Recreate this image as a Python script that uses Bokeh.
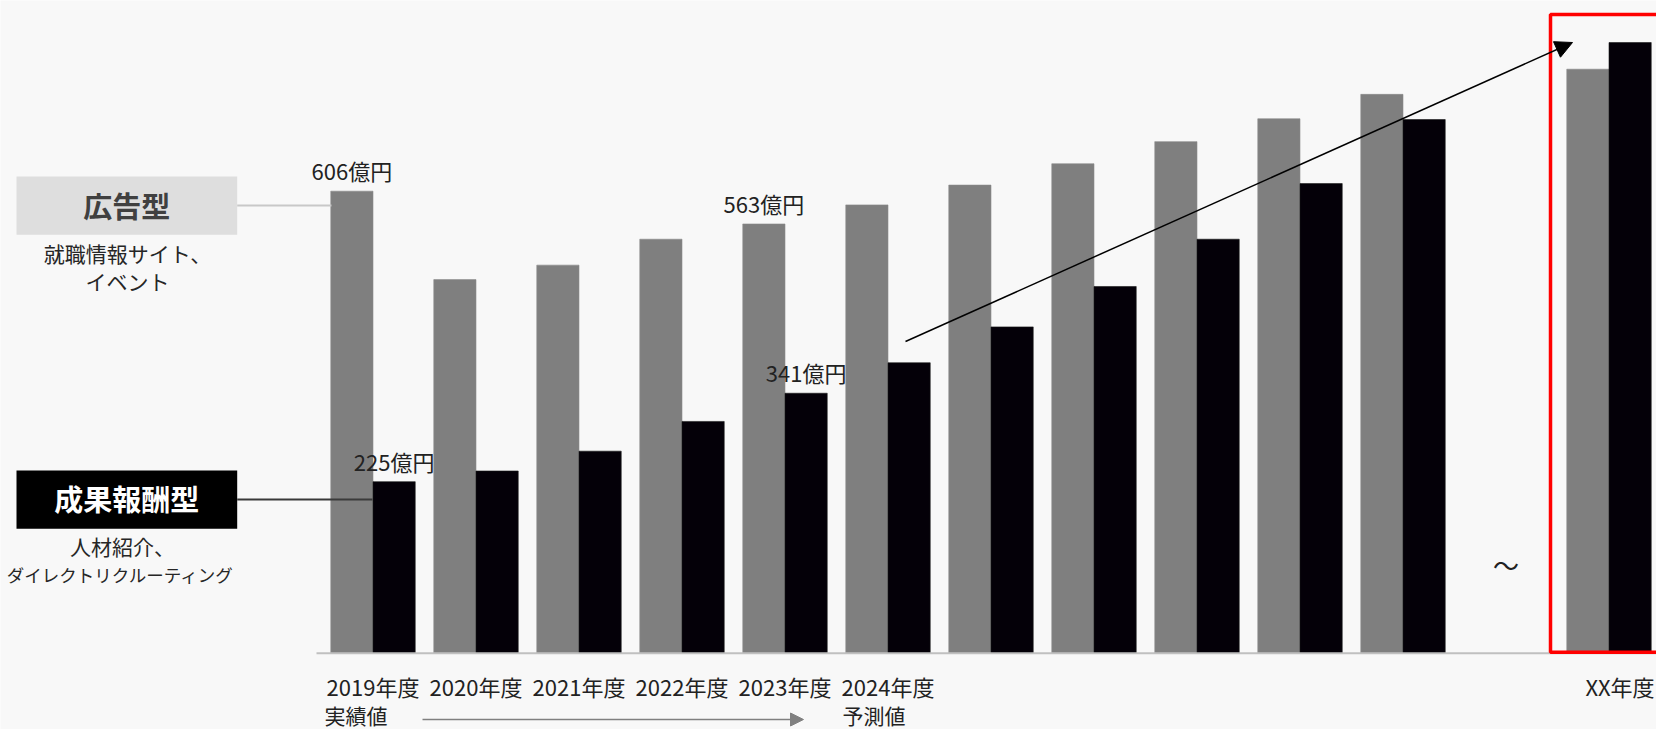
from bokeh.plotting import figure
from bokeh.models import Arrow, NormalHead, Range1d
from bokeh.core.properties import value
from bokeh.embed import file_html
from bokeh.resources import INLINE

# ---------------- data ----------------
years = ["2019年度", "2020年度", "2021年度", "2022年度", "2023年度", "2024年度",
         "2025年度", "2026年度", "2027年度", "2028年度", "2029年度", "XX年度"]
tick_labels = ["2019年度", "2020年度", "2021年度", "2022年度", "2023年度", "2024年度",
               "", "", "", "", "", "XX年度"]
slot = [0, 1, 2, 3, 4, 5, 6, 7, 8, 9, 10, 12]          # position 11 is the "～" gap
ad_type = [606, 490, 509, 543, 563, 588, 614, 642, 671, 701, 733, 766]      # 広告型 (億円)
perf_type = [225, 239, 265, 304, 341, 381, 428, 481, 543, 616, 700, 801]    # 成果報酬型 (億円)
ad_labels = ["606億円", "", "", "", "563億円", "", "", "", "", "", "", ""]
perf_labels = ["225億円", "", "", "", "341億円", "", "", "", "", "", "", ""]

# ---------------- layout helpers ----------------
W, H = 1656, 729
XS = 103.0            # px per slot
X0 = -372.5 / XS
YS = 0.7624           # px per 億円
Y0 = -(H - 652.7) / YS
FONT = value("Noto Sans CJK JP")


def fx(px):
    return X0 + px / XS


def fy(py):
    return Y0 + (H - py) / YS


p = figure(width=W, height=H, output_backend="svg", toolbar_location=None,
           x_range=Range1d(X0, X0 + W / XS), y_range=Range1d(Y0, Y0 + H / YS),
           min_border=0, min_border_left=0, min_border_right=0,
           min_border_top=0, min_border_bottom=0)
p.axis.visible = False
p.grid.visible = False
p.outline_line_color = None
p.background_fill_color = "#f8f8f8"
p.border_fill_color = "#f8f8f8"

# bars
p.vbar(x=[s - 0.205 for s in slot], top=ad_type, bottom=0, width=0.41,
       fill_color="#7f7f7f", line_color="#8a8a8a", line_width=0.6)
p.vbar(x=[s + 0.205 for s in slot], top=perf_type, bottom=0, width=0.41,
       fill_color="#040008", line_color="#1a1a1a", line_width=0.6)

# baseline
p.segment(x0=[fx(316)], y0=[0], x1=[fx(1670)], y1=[0], line_color="#c0c0c0", line_width=2)

# value labels
p.text(x=[s - 0.205 for s in slot], y=ad_type, text=ad_labels, y_offset=-21,
       text_font=FONT, text_font_size="22px", text_color="#222222",
       text_align="center", text_baseline="middle")
p.text(x=[s + 0.205 for s in slot], y=perf_type, text=perf_labels, y_offset=-21,
       text_font=FONT, text_font_size="22px", text_color="#222222",
       text_align="center", text_baseline="middle")

# category labels
x_off = [0] * 11 + [11]
p.text(x=slot, y=[fy(685)] * len(slot), text=tick_labels, x_offset=x_off,
       text_font=FONT, text_font_size="22px", text_color="#222222",
       text_align="center", text_baseline="middle")

# legend boxes on the left
p.quad(left=[fx(16)], right=[fx(236.7)], top=[fy(176)], bottom=[fy(234.3)],
       fill_color="#dedede", line_color=None)
p.quad(left=[fx(16)], right=[fx(236.7)], top=[fy(470)], bottom=[fy(528.3)],
       fill_color="#000000", line_color=None)
p.text(x=[fx(126.3)], y=[fy(204)], text=["広告型"], text_font=FONT,
       text_font_style="bold", text_font_size="29px", text_color="#404040",
       text_align="center", text_baseline="middle")
p.text(x=[fx(126.3)], y=[fy(497)], text=["成果報酬型"], text_font=FONT,
       text_font_style="bold", text_font_size="29px", text_color="#ffffff",
       text_align="center", text_baseline="middle")
p.text(x=[fx(127), fx(127)], y=[fy(252), fy(280)],
       text=["就職情報サイト、", "イベント"], text_font=FONT, text_font_size="21px",
       text_color="#262626", text_align="center", text_baseline="middle")
p.text(x=[fx(122)], y=[fy(545)], text=["人材紹介、"], text_font=FONT,
       text_font_size="21px", text_color="#262626", text_align="center",
       text_baseline="middle")
p.text(x=[fx(120)], y=[fy(574)], text=["ダイレクトリクルーティング"], text_font=FONT,
       text_font_size="17.5px", text_color="#262626", text_align="center",
       text_baseline="middle")

# connectors
p.segment(x0=[fx(236.7)], y0=[fy(205)], x1=[fx(331)], y1=[fy(205)],
          line_color="#c8c8c8", line_width=2)
p.segment(x0=[fx(236.7)], y0=[fy(499)], x1=[fx(372)], y1=[fy(499)],
          line_color="#3a3a3a", line_width=2)

# tilde gap marker
p.text(x=[11], y=[fy(564)], text=["～"], text_font=FONT, text_font_size="26px",
       text_color="#222222", text_align="center", text_baseline="middle")

# growth arrow
p.add_layout(Arrow(x_start=fx(905), y_start=fy(341), x_end=fx(1572), y_end=fy(42),
                   line_color="black", line_width=1.5,
                   end=NormalHead(size=17, fill_color="black", line_color="black")))

# red highlight box
p.quad(left=[fx(1550)], right=[fx(1740)], top=[fy(14)], bottom=[fy(651.7)],
       fill_color=None, line_color="#ff0000", line_width=3.5)

# bottom row: actual -> forecast
p.text(x=[fx(324), fx(842)], y=[fy(714), fy(714)], text=["実績値", "予測値"],
       text_font=FONT, text_font_size="21px", text_color="#222222",
       text_align="left", text_baseline="middle")
p.add_layout(Arrow(x_start=fx(422), y_start=fy(719), x_end=fx(803), y_end=fy(719),
                   line_color="#808080", line_width=1.5,
                   end=NormalHead(size=13, fill_color="#808080", line_color="#808080")))

open("out.html", "w").write(file_html(p, INLINE))
